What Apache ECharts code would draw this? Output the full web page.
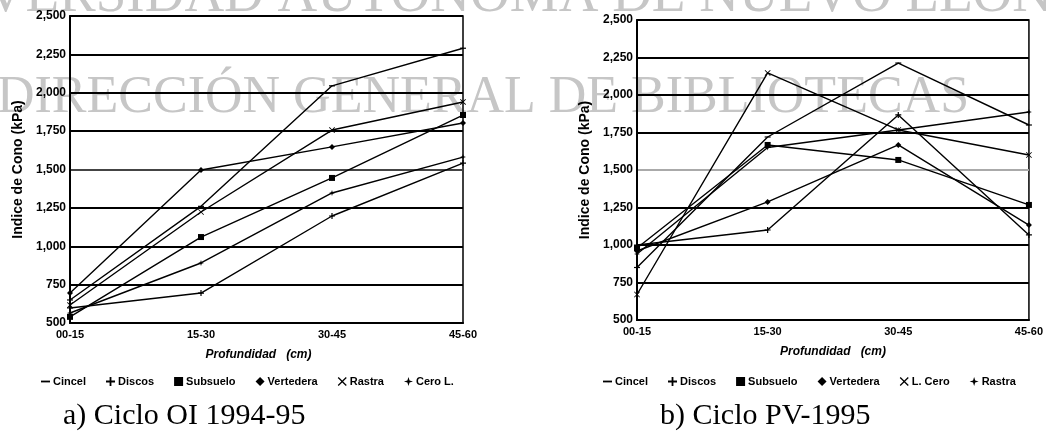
<!DOCTYPE html>
<html>
<head>
<meta charset="utf-8">
<script src="https://cdn.jsdelivr.net/npm/echarts@6/dist/echarts.min.js"></script>
<style>html,body{margin:0;padding:0;background:#fff;}#c{width:1046px;height:438px;}</style>
</head>
<body>
<div id="c"></div>
<script>
// ---- data ----
const categories = ['00-15', '15-30', '30-45', '45-60'];
const yTickLabels = ['500', '750', '1,000', '1,250', '1,500', '1,750', '2,000', '2,250', '2,500'];
const yTickValues = [500, 750, 1000, 1250, 1500, 1750, 2000, 2250, 2500];

// a) Ciclo OI 1994-95
const leftNames = ['Cincel', 'Discos', 'Subsuelo', 'Vertedera', 'Rastra', 'Cero L.'];
const leftCincel    = [650, 1260, 2045, 2290];
const leftDiscos    = [598, 695, 1197, 1542];
const leftSubsuelo  = [540, 1060, 1445, 1855];
const leftVertedera = [695, 1497, 1647, 1803];
const leftRastra    = [617, 1223, 1757, 1940];
const leftCeroL     = [565, 891, 1347, 1581];

// b) Ciclo PV-1995
const rightNames = ['Cincel', 'Discos', 'Subsuelo', 'Vertedera', 'L. Cero', 'Rastra'];
const rightCincel    = [850, 1720, 2213, 1800];
const rightDiscos    = [1000, 1100, 1867, 1067];
const rightSubsuelo  = [980, 1667, 1567, 1267];
const rightVertedera = [960, 1287, 1667, 1133];
const rightLCero     = [670, 2147, 1767, 1600];
const rightRastra    = [940, 1650, 1767, 1887];

const titleLeft = 'a) Ciclo OI 1994-95';
const titleRight = 'b) Ciclo PV-1995';
const yName = 'Indice de Cono (kPa)';
const xName = 'Profundidad   (cm)';
const watermark1 = 'UNIVERSIDAD AUTÓNOMA DE NUEVO LEÓN';
const watermark2 = 'DIRECCIÓN GENERAL DE BIBLIOTECAS';

// ---- styles ----
const SYM = {
  dash: 'path://M0,4H10V6H0Z',
  plus: 'path://M4,0H6V4H10V6H6V10H4V6H0V4H4Z',
  rect: 'rect',
  diamond: 'diamond',
  cross: 'path://M1,0L5,4L9,0L10,1L6,5L10,9L9,10L5,6L1,10L0,9L4,5L0,1Z',
  star: 'path://M5,0L6.2,3.8L10,5L6.2,6.2L5,10L3.8,6.2L0,5L3.8,3.8Z'
};
const leftSym = [SYM.dash, SYM.plus, SYM.rect, SYM.diamond, SYM.cross, SYM.star];
const rightSym = [SYM.dash, SYM.plus, SYM.rect, SYM.diamond, SYM.cross, SYM.star];
const leftData = [leftCincel, leftDiscos, leftSubsuelo, leftVertedera, leftRastra, leftCeroL];
const rightData = [rightCincel, rightDiscos, rightSubsuelo, rightVertedera, rightLCero, rightRastra];

const FONT = 'Liberation Sans';
const tickFmt = v => { const i = yTickValues.indexOf(v); return i >= 0 ? yTickLabels[i] : ''; };

function yAxis(gi, midColor) {
  return {
    type: 'value', gridIndex: gi, min: 500, max: 2500, interval: 250,
    name: yName, nameLocation: 'middle', nameGap: 45,
    nameTextStyle: { fontFamily: FONT, fontWeight: 'bold', fontSize: 14, color: '#000' },
    axisLine: { show: true, lineStyle: { color: '#000', width: 2 } },
    axisTick: { show: false },
    axisLabel: { formatter: tickFmt, fontFamily: FONT, fontWeight: 'bold', fontSize: 12, color: '#000', margin: 4 },
    splitLine: { show: true, lineStyle: { color: ['#000', '#000', '#000', '#000', midColor, '#000', '#000', '#000', '#000'], width: 2 } }
  };
}
function xAxis(gi) {
  return {
    type: 'category', gridIndex: gi, data: categories, boundaryGap: false,
    name: xName, nameLocation: 'middle', nameGap: 26,
    nameTextStyle: { fontFamily: FONT, fontWeight: 'bold', fontStyle: 'italic', fontSize: 12, color: '#000', padding: [0, gi === 0 ? 16 : 0, 0, 0] },
    axisLine: { show: true, lineStyle: { color: '#000', width: 2 } },
    axisTick: { show: false },
    axisLabel: { fontFamily: FONT, fontWeight: 'bold', fontSize: 11, color: '#000', margin: 6 },
    splitLine: { show: false }
  };
}
function mkSeries(names, data, syms, gi) {
  return names.map((n, i) => ({
    type: 'line', name: n, xAxisIndex: gi, yAxisIndex: gi, data: data[i],
    symbol: syms[i], symbolSize: 6, symbolKeepAspect: true, showSymbol: true,
    lineStyle: { color: '#000', width: 1.4 },
    itemStyle: { color: '#000' },
    animation: false
  }));
}
function mkLegend(names, syms, left) {
  return {
    left: left, top: 371, orient: 'horizontal', itemGap: 20, itemWidth: 9, itemHeight: 9, itemStyle: { color: '#000' },
    textStyle: { fontFamily: FONT, fontWeight: 'bold', fontSize: 11, color: '#000', padding: [0, 0, 0, -2] },
    data: names.map((n, i) => ({ name: n, icon: syms[i] })),
    selectedMode: false
  };
}

const chart = echarts.init(document.getElementById('c'), null, { renderer: 'canvas' });
chart.setOption({
  backgroundColor: '#fff',
  animation: false,
  graphic: [
    { type: 'text', left: -112, top: -31, z: -1, silent: true,
      style: { text: watermark1, font: '55px "Liberation Serif"', fill: '#c6c6c6' } },
    { type: 'text', left: -3, top: 72, z: -1, silent: true,
      style: { text: watermark2, font: '52px "Liberation Serif"', fill: '#c6c6c6' } },
    { type: 'text', left: 63, top: 401, style: { text: titleLeft, font: '30px "Liberation Serif"', fill: '#000' } },
    { type: 'text', left: 660, top: 401, style: { text: titleRight, font: '30px "Liberation Serif"', fill: '#000' } }
  ],
  grid: [
    { left: 70, top: 16, width: 393, height: 307, show: true, borderColor: '#000', borderWidth: 1.5, backgroundColor: 'transparent', containLabel: false },
    { left: 637, top: 20, width: 393, height: 300, show: true, borderColor: '#000', borderWidth: 1.5, backgroundColor: 'transparent', containLabel: false }
  ],
  xAxis: [xAxis(0), xAxis(1)],
  yAxis: [yAxis(0, '#444'), yAxis(1, '#aaa')],
  legend: [mkLegend(leftNames, leftSym, 36), mkLegend(rightNames, rightSym, 598)],
  series: mkSeries(leftNames, leftData, leftSym, 0).concat(mkSeries(rightNames, rightData, rightSym, 1))
});
</script>
</body>
</html>
